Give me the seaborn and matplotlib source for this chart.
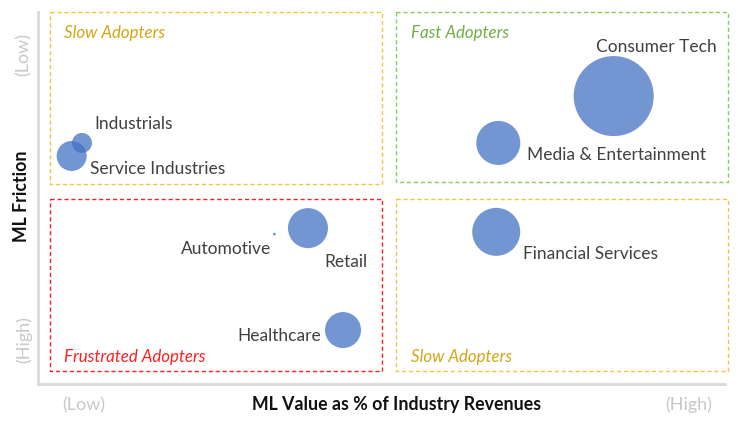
import pandas as pd
import matplotlib.pyplot as plt
from matplotlib.patches import Rectangle
import seaborn as sns

# Industry bubbles: ML value (x, 0-100), ML friction (y, 0 = low, 100 = high), relative bubble area
industries = ['Consumer Tech', 'Media & Entertainment', 'Industrials', 'Service Industries',
              'Automotive', 'Retail', 'Healthcare', 'Financial Services']
ml_value = [83.8, 67.0, 6.4, 4.9, 34.4, 39.3, 44.4, 66.7]
ml_friction = [22.6, 35.2, 35.2, 38.7, 59.7, 58.1, 85.5, 59.1]
bubble_area = [1600, 484, 100, 225, 2, 400, 324, 576]

# Label offsets (pixels) and alignment
label_dx = [-18, 29, 12, 18, -3, 16, -22, 27]
label_dy = [50, -11, 20, -12, -14, -33, -5, -21]
label_ha = ['left', 'left', 'left', 'left', 'right', 'left', 'right', 'left']

# Quadrants
quad_names = ['Slow Adopters', 'Fast Adopters', 'Frustrated Adopters', 'Slow Adopters']
quad_colors = ['#F5C242', '#8FCB5A', '#FF2020', '#F5C242']
quad_text_colors = ['#D4A514', '#70AD47', '#FF2020', '#D4A514']

df = pd.DataFrame({'industry': industries, 'x': ml_value, 'y': ml_friction, 'area': bubble_area})

sns.set_style('white')
plt.rcParams['font.family'] = ['Lato', 'DejaVu Sans']

fig = plt.figure(figsize=(7.38, 4.27), dpi=100)
ax = fig.add_axes([38 / 738, 42 / 427, 687 / 738, 372 / 427])

sns.scatterplot(data=df, x='x', y='y', size='area', sizes=(0, 3318), size_norm=(0, 1600),
                color='#4472C4', alpha=0.75, edgecolor='none', legend=False, ax=ax)

for i, row in df.iterrows():
    ax.annotate(row['industry'], (row['x'], row['y']), xytext=(label_dx[i], label_dy[i]),
                textcoords='offset pixels', ha=label_ha[i], va='center',
                fontsize=12.5, color='#404040')

ax.set_xlim(0, 100)
ax.set_ylim(100, 0)

# quadrant boxes
boxes = [(1.75, 0, 48.3, 46.2), (52.1, 0, 48.3, 45.7), (1.75, 50.3, 48.3, 46.2), (52.1, 50.3, 48.3, 46.2)]
title_pos = [(3.8, 5.4), (54.3, 5.4), (3.8, 92.5), (54.3, 92.5)]
for (bx, by, bw, bh), name, c, tc, (tx, ty) in zip(boxes, quad_names, quad_colors, quad_text_colors, title_pos):
    ax.add_patch(Rectangle((bx, by), bw, bh, fill=False, edgecolor=c, linestyle=(0, (3, 2)),
                           linewidth=1, clip_on=False))
    ax.text(tx, ty, name, fontsize=12.2, style='italic', color=tc, va='center', ha='left')

ax.set_xticks([])
ax.set_yticks([])
ax.set_xlabel('')
ax.set_ylabel('')
for s in ['top', 'right']:
    ax.spines[s].set_visible(False)
for s in ['left', 'bottom']:
    ax.spines[s].set_color('#D9D9D9')
    ax.spines[s].set_linewidth(2)

# axis captions
fig.text(397 / 738, 1 - 405 / 427, 'ML Value as % of Industry Revenues', ha='center', va='center',
         fontsize=12.8, fontweight='bold', color='#111111')
fig.text(84 / 738, 1 - 405 / 427, '(Low)', ha='center', va='center', fontsize=13, color='#C8C8C8')
fig.text(689 / 738, 1 - 405 / 427, '(High)', ha='center', va='center', fontsize=13, color='#C8C8C8')
fig.text(22 / 738, 1 - 196 / 427, 'ML Friction', ha='center', va='center', rotation=90,
         fontsize=12.8, fontweight='bold', color='#111111')
fig.text(24 / 738, 1 - 55 / 427, '(Low)', ha='center', va='center', rotation=90, fontsize=13, color='#C8C8C8')
fig.text(24 / 738, 1 - 340 / 427, '(High)', ha='center', va='center', rotation=90, fontsize=13, color='#C8C8C8')

fig.savefig('out.png', dpi=100)
